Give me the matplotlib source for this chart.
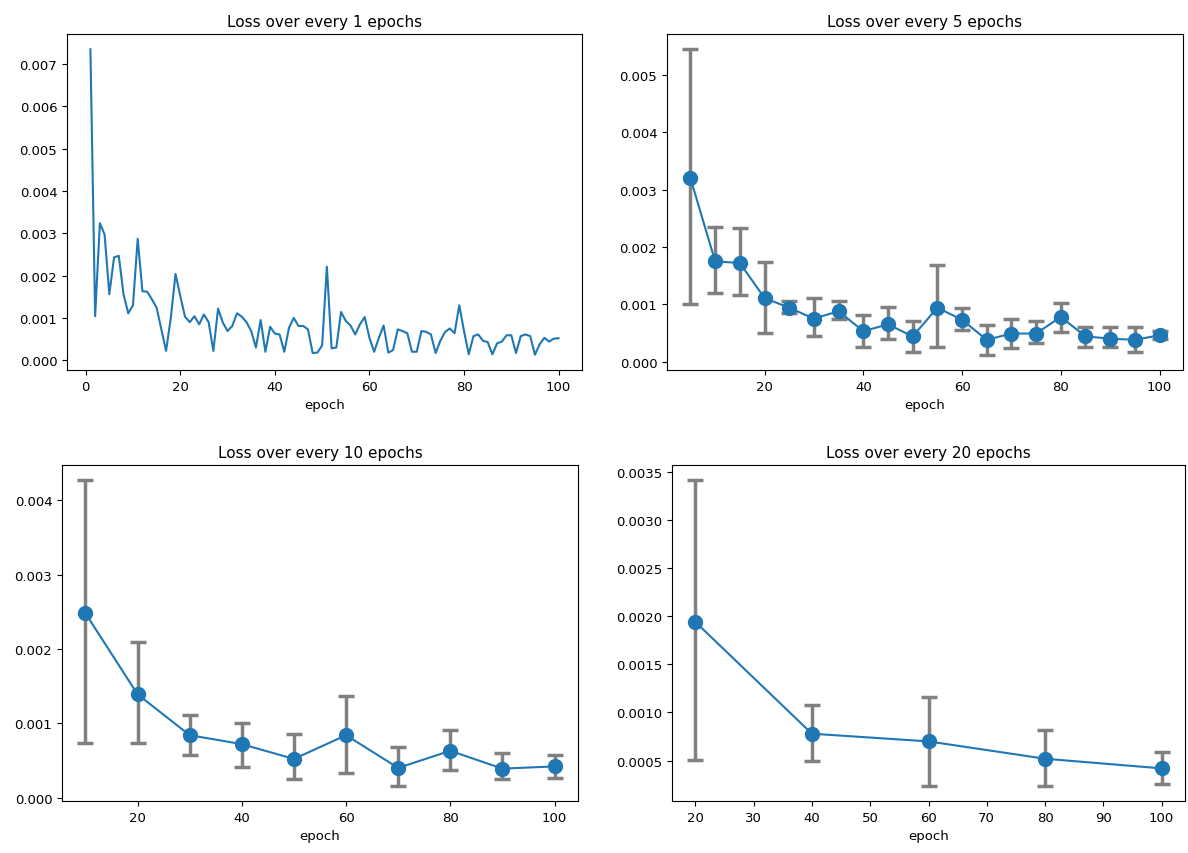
import matplotlib
matplotlib.use('Agg')
import matplotlib.pyplot as plt

# per-epoch loss (epochs 1..100), values in units of 1e-3
epochs = list(range(1, 101))
loss_1 = [7.35, 1.04, 3.24, 2.97, 1.56, 2.43, 2.47, 1.56, 1.11, 1.30,
          2.87, 1.63, 1.62, 1.44, 1.24, 0.73, 0.22, 1.00, 2.04, 1.52,
          1.03, 0.90, 1.04, 0.85, 1.08, 0.90, 0.22, 1.22, 0.89, 0.69,
          0.81, 1.11, 1.03, 0.90, 0.69, 0.30, 0.95, 0.20, 0.79, 0.63,
          0.61, 0.20, 0.77, 1.00, 0.81, 0.81, 0.73, 0.17, 0.18, 0.35,
          2.21, 0.28, 0.30, 1.14, 0.93, 0.82, 0.61, 0.85, 1.02, 0.53,
          0.20, 0.53, 0.82, 0.18, 0.24, 0.73, 0.69, 0.64, 0.20, 0.20,
          0.69, 0.67, 0.61, 0.17, 0.46, 0.67, 0.75, 0.64, 1.30, 0.69,
          0.14, 0.57, 0.61, 0.46, 0.43, 0.14, 0.40, 0.44, 0.59, 0.59,
          0.17, 0.57, 0.61, 0.57, 0.13, 0.38, 0.53, 0.44, 0.51, 0.52]

# every 5 epochs: mean, lower and upper error bar ends (1e-3)
ep_5 = [5, 10, 15, 20, 25, 30, 35, 40, 45, 50,
        55, 60, 65, 70, 75, 80, 85, 90, 95, 100]
mean_5 = [3.20, 1.75, 1.72, 1.11, 0.94, 0.75, 0.88, 0.53, 0.65, 0.44,
          0.94, 0.73, 0.38, 0.49, 0.49, 0.78, 0.44, 0.40, 0.38, 0.46]
low_5 = [1.00, 1.20, 1.17, 0.50, 0.84, 0.45, 0.74, 0.26, 0.39, 0.16,
         0.26, 0.55, 0.12, 0.23, 0.32, 0.52, 0.26, 0.26, 0.17, 0.39]
high_5 = [5.45, 2.35, 2.33, 1.73, 1.06, 1.11, 1.06, 0.82, 0.95, 0.71,
          1.68, 0.93, 0.64, 0.74, 0.71, 1.03, 0.60, 0.60, 0.60, 0.53]

# every 10 epochs
ep_10 = [10, 20, 30, 40, 50, 60, 70, 80, 90, 100]
mean_10 = [2.48, 1.39, 0.84, 0.72, 0.52, 0.84, 0.40, 0.63, 0.39, 0.42]
low_10 = [0.73, 0.74, 0.57, 0.41, 0.25, 0.33, 0.16, 0.37, 0.25, 0.26]
high_10 = [4.27, 2.10, 1.11, 1.01, 0.85, 1.37, 0.68, 0.91, 0.60, 0.58]

# every 20 epochs
ep_20 = [20, 40, 60, 80, 100]
mean_20 = [1.94, 0.78, 0.70, 0.52, 0.42]
low_20 = [0.51, 0.50, 0.24, 0.24, 0.26]
high_20 = [3.41, 1.08, 1.16, 0.82, 0.59]

blue = '#1f77b4'
scale = 1e-3
W, H = 1188, 854

fig, axes = plt.subplots(2, 2, figsize=(W / 100, H / 100), dpi=100)
ax1, ax2, ax3, ax4 = axes.flatten()

ax1.plot(epochs, [v * scale for v in loss_1], color=blue, lw=1.5)
ax1.set_title('Loss over every 1 epochs', fontsize=11)
ax1.set_xlabel('epoch', fontsize=9.5)


def err_panel(ax, x, mean, low, high, step):
    m = [v * scale for v in mean]
    yerr = [[(a - b) * scale for a, b in zip(mean, low)],
            [(c - a) * scale for a, c in zip(mean, high)]]
    ax.errorbar(x, m, yerr=yerr, fmt='none', ecolor='#808080',
                elinewidth=2.5, capsize=5.5, capthick=2.5, zorder=1)
    ax.plot(x, m, color=blue, lw=1.5, marker='o', markersize=10, zorder=2)
    ax.set_title('Loss over every %d epochs' % step, fontsize=11)
    ax.set_xlabel('epoch', fontsize=9.5)


err_panel(ax2, ep_5, mean_5, low_5, high_5, 5)
err_panel(ax3, ep_10, mean_10, low_10, high_10, 10)
err_panel(ax4, ep_20, mean_20, low_20, high_20, 20)

ax2.set_xticks([20, 40, 60, 80, 100])
ax3.set_xticks([20, 40, 60, 80, 100])

for ax in axes.flatten():
    ax.tick_params(labelsize=9.5)

# axes boxes in pixels: left, right, top, bottom
boxes = [(67, 582, 35, 371), (667, 1183, 35, 371),
         (62, 578, 466, 802), (672, 1185, 466, 802)]
for ax, (l, r, t, b) in zip(axes.flatten(), boxes):
    ax.set_position([l / W, 1 - b / H, (r - l) / W, (b - t) / H])

plt.savefig('out.png', dpi=100)
